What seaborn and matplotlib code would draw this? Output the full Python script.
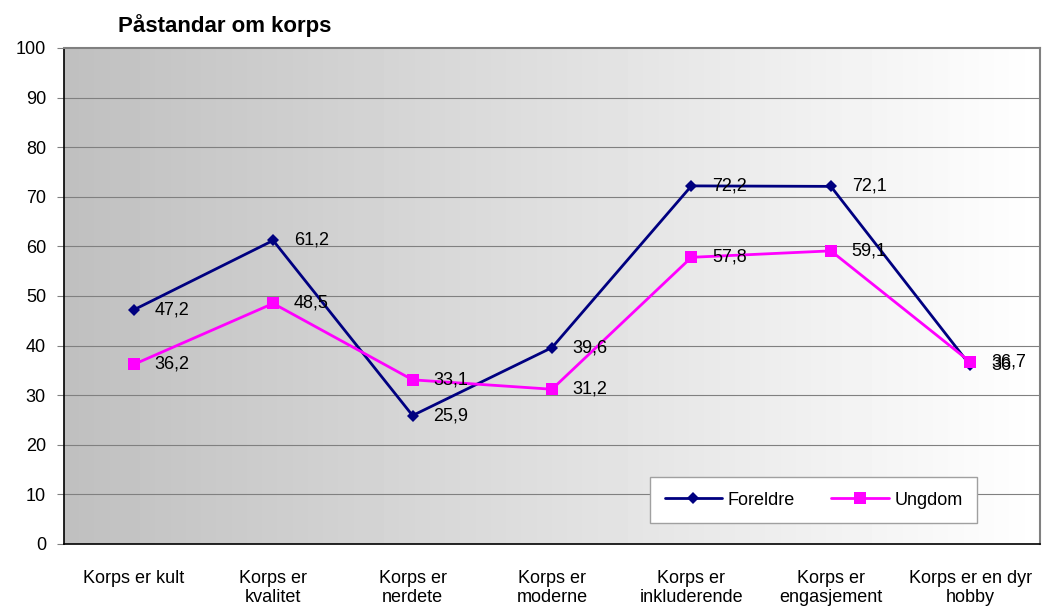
import numpy as np
import pandas as pd
import matplotlib.pyplot as plt
import seaborn as sns

# ── DATA ─────────────────────────────────────────────────────────────────────
categories = ["Korps er kult", "Korps er\nkvalitet", "Korps er\nnerdete",
              "Korps er\nmoderne", "Korps er\ninkluderende", "Korps er\nengasjement",
              "Korps er en dyr\nhobby"]
foreldre = [47.2, 61.2, 25.9, 39.6, 72.2, 72.1, 36.0]
ungdom = [36.2, 48.5, 33.1, 31.2, 57.8, 59.1, 36.7]
foreldre_labels = ["47,2", "61,2", "25,9", "39,6", "72,2", "72,1", "36"]
ungdom_labels = ["36,2", "48,5", "33,1", "31,2", "57,8", "59,1", "36,7"]

sns.set_style("white")
plt.rcParams["font.family"] = ["Liberation Sans", "DejaVu Sans"]
plt.rcParams["text.color"] = "black"
plt.rcParams["xtick.color"] = "black"
plt.rcParams["ytick.color"] = "black"

df = pd.DataFrame({
    "pos": list(range(len(categories))) * 2,
    "verdi": foreldre + ungdom,
    "gruppe": ["Foreldre"] * len(categories) + ["Ungdom"] * len(categories),
})

fig = plt.figure(figsize=(10.44, 6.10), dpi=100)
ax = fig.add_axes([64 / 1044, 1 - 544 / 610, 976 / 1044, 496 / 610])

# gradient background
grad = np.linspace(0.75, 1.0, 256).reshape(1, -1)
ax.imshow(grad, cmap="gray", vmin=0, vmax=1, aspect="auto",
          extent=[-0.5, 6.5, 0, 100], zorder=0)

for y in range(10, 100, 10):
    ax.axhline(y, color="#808080", lw=0.8, zorder=1)

sns.lineplot(data=df, x="pos", y="verdi", hue="gruppe", style="gruppe",
             palette={"Foreldre": "#000080", "Ungdom": "#FF00FF"},
             markers={"Foreldre": "D", "Ungdom": "s"}, dashes=False,
             markersize=8.5, markeredgewidth=0, linewidth=2, ax=ax, zorder=3)
for line in ax.lines:
    if line.get_marker() == "D":
        line.set_markersize(6.5)

for i in range(len(categories)):
    ax.annotate(foreldre_labels[i], (i, foreldre[i]), xytext=(15, 0),
                textcoords="offset points", va="center", fontsize=13, zorder=4)
    ax.annotate(ungdom_labels[i], (i, ungdom[i]), xytext=(15, 0),
                textcoords="offset points", va="center", fontsize=13, zorder=4)

ax.set_xlim(-0.5, 6.5)
ax.set_ylim(0, 100)
ax.set_yticks(range(0, 101, 10))
ax.set_xticks(range(len(categories)))
ax.set_xticklabels(categories, fontsize=13, linespacing=1.1)
ax.set_xticks(np.arange(-0.5, 7, 1), minor=True)
ax.tick_params(axis="x", which="major", length=0, pad=19)
ax.tick_params(axis="x", which="minor", length=6, direction="out", color="#808080")
ax.tick_params(axis="y", labelsize=13, length=5, direction="out", color="#808080", pad=8, left=True)
ax.set_xlabel("")
ax.set_ylabel("")

for s in ["top", "right"]:
    ax.spines[s].set_color("#808080")
    ax.spines[s].set_linewidth(1.5)
for s in ["left", "bottom"]:
    ax.spines[s].set_color("black")
    ax.spines[s].set_linewidth(1.2)

leg = ax.legend(loc="center", bbox_to_anchor=(0.597, 0.042, 0.342, 0.093),
                ncol=2, fontsize=13, frameon=True, fancybox=False,
                edgecolor="#a0a0a0", framealpha=1, handlelength=3.2,
                columnspacing=2.0, handletextpad=0.3, borderpad=0.8)
leg.get_frame().set_linewidth(1)

fig.text(118 / 1044, 1 - 26 / 610, "Påstandar om korps", fontsize=16,
         fontweight="bold", va="center", ha="left")

plt.savefig("out.png", dpi=100)
